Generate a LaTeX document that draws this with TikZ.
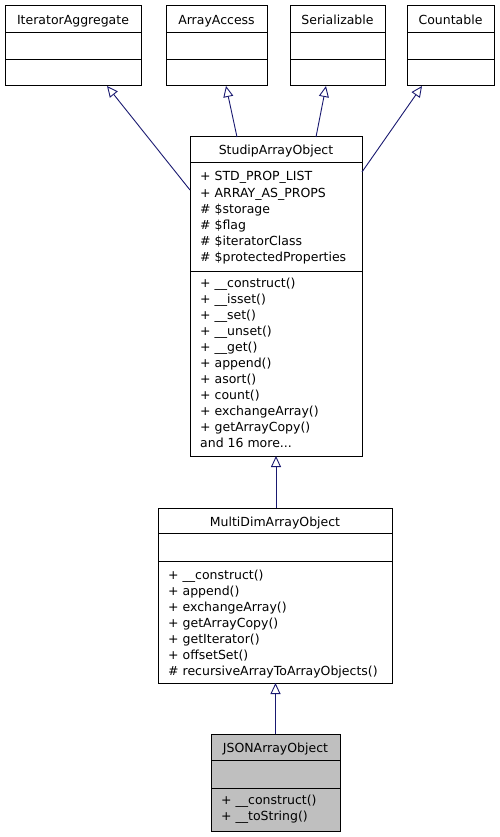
\documentclass[tikz,border=0pt]{standalone}
\usepackage{fontspec}
\setmainfont{DejaVu Sans}
\usetikzlibrary{arrows.meta}
\definecolor{edgeblue}{HTML}{191970}
\definecolor{selgray}{HTML}{BFBFBF}
\tikzset{
  cls/.style={draw=black, line width=1pt, anchor=north west, inner sep=0pt, outer sep=0pt, fill=white},
  ttl/.style={anchor=base, inner sep=0pt, font=\fontsize{12.5pt}{15pt}\selectfont},
  mem/.style={anchor=base west, inner sep=0pt, font=\fontsize{12.5pt}{15pt}\selectfont},
  dvd/.style={draw=black, line width=1pt},
  inh/.style={draw=edgeblue, line width=0.9pt, -{Triangle[open,length=11pt,width=10pt,line width=0.9pt]}}
}
\begin{document}
\begin{tikzpicture}[x=1pt,y=-1pt]
\useasboundingbox (0,0) rectangle (499,837);
% interfaces
\node[cls, minimum width=136pt, minimum height=80pt] (ia) at (5,6) {};
\node[cls, minimum width=101pt, minimum height=80pt] (aa) at (166,6) {};
\node[cls, minimum width=95pt, minimum height=80pt] (ser) at (290,6) {};
\node[cls, minimum width=87pt, minimum height=80pt] (cnt) at (407,6) {};
\foreach \n in {ia,aa,ser,cnt}{
  \draw[dvd] ([yshift=-27pt]\n.north west) -- ([yshift=-27pt]\n.north east);
  \draw[dvd] ([yshift=-54pt]\n.north west) -- ([yshift=-54pt]\n.north east);
}
\node[ttl] (ia-t) at (73,25) {IteratorAggregate};
\node[ttl] (aa-t) at (216.5,25) {ArrayAccess};
\node[ttl] (ser-t) at (337.5,25) {Serializable};
\node[ttl] (cnt-t) at (450.5,25) {Countable};
% StudipArrayObject
\node[cls, minimum width=172pt, minimum height=319pt] (sao) at (190,137) {};
\draw[dvd] ([yshift=-26pt]sao.north west) -- ([yshift=-26pt]sao.north east);
\draw[dvd] ([yshift=-134pt]sao.north west) -- ([yshift=-134pt]sao.north east);
\node[ttl] (sao-t) at (276,155) {StudipArrayObject};
\node[mem] (sao-a1) at (200,181) {+ STD\_PROP\_LIST};
\node[mem] (sao-a2) at (200,197) {+ ARRAY\_AS\_PROPS};
\node[mem] (sao-a3) at (200,213) {\# \$storage};
\node[mem] (sao-a4) at (200,229) {\# \$flag};
\node[mem] (sao-a5) at (200,245) {\# \$iteratorClass};
\node[mem] (sao-a6) at (200,261) {\# \$protectedProperties};
\node[mem] (sao-m1) at (200,287) {+ \_\_construct()};
\node[mem] (sao-m2) at (200,303) {+ \_\_isset()};
\node[mem] (sao-m3) at (200,319) {+ \_\_set()};
\node[mem] (sao-m4) at (200,335) {+ \_\_unset()};
\node[mem] (sao-m5) at (200,351) {+ \_\_get()};
\node[mem] (sao-m6) at (200,367) {+ append()};
\node[mem] (sao-m7) at (200,383) {+ asort()};
\node[mem] (sao-m8) at (200,399) {+ count()};
\node[mem] (sao-m9) at (200,415) {+ exchangeArray()};
\node[mem] (sao-m10) at (200,431) {+ getArrayCopy()};
\node[mem] (sao-m11) at (200,447) {and 16 more...};
% MultiDimArrayObject
\node[cls, minimum width=234pt, minimum height=175pt] (md) at (158,508) {};
\draw[dvd] ([yshift=-25pt]md.north west) -- ([yshift=-25pt]md.north east);
\draw[dvd] ([yshift=-53pt]md.north west) -- ([yshift=-53pt]md.north east);
\node[ttl] (md-t) at (275,526) {MultiDimArrayObject};
\node[mem] (md-m1) at (168,579) {+ \_\_construct()};
\node[mem] (md-m2) at (168,595) {+ append()};
\node[mem] (md-m3) at (168,611) {+ exchangeArray()};
\node[mem] (md-m4) at (168,627) {+ getArrayCopy()};
\node[mem] (md-m5) at (168,643) {+ getIterator()};
\node[mem] (md-m6) at (168,659) {+ offsetSet()};
\node[mem] (md-m7) at (168,675) {\# recursiveArrayToArrayObjects()};
% JSONArrayObject
\node[cls, fill=selgray, minimum width=129pt, minimum height=97pt] (js) at (211,734) {};
\draw[dvd] ([yshift=-26pt]js.north west) -- ([yshift=-26pt]js.north east);
\draw[dvd] ([yshift=-54pt]js.north west) -- ([yshift=-54pt]js.north east);
\node[ttl] (js-t) at (275.5,752) {JSONArrayObject};
\node[mem] (js-m1) at (221,804) {+ \_\_construct()};
\node[mem] (js-m2) at (221,820) {+ \_\_toString()};
% inheritance
\draw[inh] ([yshift=-53pt]sao.north west) -- ([xshift=-34pt]ia.south east);
\draw[inh] ([xshift=47pt]sao.north west) -- ([xshift=60pt]aa.south west);
\draw[inh] ([xshift=126pt]sao.north west) -- ([xshift=36pt]ser.south west);
\draw[inh] ([yshift=-35pt]sao.north east) -- ([xshift=15pt]cnt.south west);
\draw[inh] (md.north -| sao.south) -- (sao.south);
\draw[inh] (js.north) -- (md.south -| js.north);
\end{tikzpicture}
\end{document}
